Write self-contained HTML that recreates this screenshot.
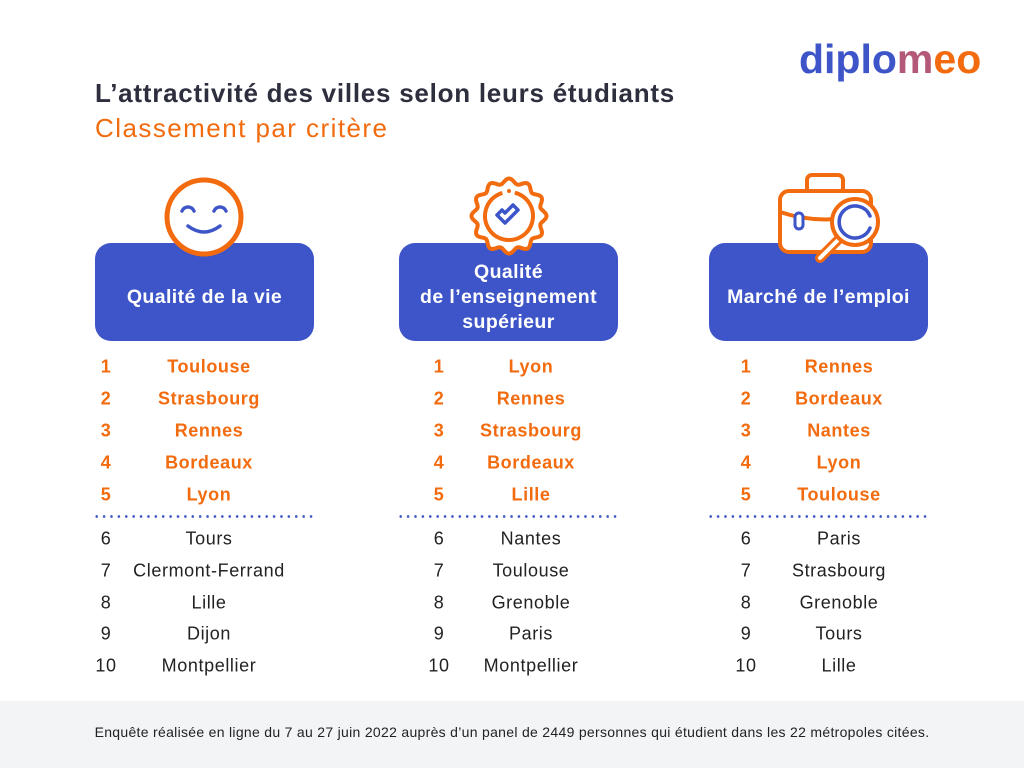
<!DOCTYPE html>
<html><head><meta charset="utf-8"><style>
*{margin:0;padding:0;box-sizing:border-box}
body{width:1024px;height:768px;background:#fff;position:relative;overflow:hidden;font-family:"Liberation Sans",sans-serif}
.t{position:absolute;white-space:nowrap}
.box{position:absolute;top:243px;width:219px;height:98px;background:#3d55c8;border-radius:16px;color:#fff;font-size:19.5px;font-weight:bold;display:flex;align-items:center;justify-content:center;text-align:center;line-height:25px;padding-top:10px;letter-spacing:0.4px}
.n{position:absolute;font-size:18px;transform:translate(-50%,-50%)}
.c{position:absolute;font-size:18px;transform:translate(-50%,-50%);white-space:nowrap}
.o{color:#f26b0f;font-weight:bold;letter-spacing:0.6px}
.k{color:#222;letter-spacing:0.6px}
.dots{position:absolute;top:515px;height:3px;width:222px;background:radial-gradient(circle,#3d55c8 1.2px,transparent 1.5px) 0 0/7.4px 3px repeat-x}
</style></head><body>
<div class="t" style="left:799px;top:36px;font-size:41px;font-weight:bold;color:#3d55c8;letter-spacing:0px">diplo<span style="color:#b4587a">m</span><span style="color:#f26b0f">eo</span></div>
<div class="t" style="left:95px;top:78px;font-size:26px;font-weight:bold;color:#2e2f3e;letter-spacing:0.75px">L’attractivité des villes selon leurs étudiants</div>
<div class="t" style="left:95px;top:113px;font-size:26px;color:#f26b0f;letter-spacing:1.45px">Classement par critère</div>

<div class="box" style="left:95px">Qualité de la vie</div>
<div class="box" style="left:399px">Qualité<br>de l’enseignement<br>supérieur</div>
<div class="box" style="left:709px">Marché de l’emploi</div>

<svg style="position:absolute;left:0;top:0" width="1024" height="300">
<circle cx="204" cy="217" r="37" fill="#fff" stroke="#f26b0f" stroke-width="5"/>
<path d="M182 211a6.5 6.5 0 0 1 12 0M214 211a6.5 6.5 0 0 1 12 0" fill="none" stroke="#3d55c8" stroke-width="3.5" stroke-linecap="round"/>
<path d="M188 226q16 12 32 0" fill="none" stroke="#3d55c8" stroke-width="3.5" stroke-linecap="round"/>
<path id="wavy" d="" fill="#fff" stroke="#f26b0f" stroke-width="4"/>
<circle cx="509" cy="216" r="24" fill="none" stroke="#f26b0f" stroke-width="4" stroke-dasharray="138 12.8" transform="rotate(-76 509 216)"/>
<circle cx="509" cy="191" r="2" fill="#f26b0f"/>
<path d="M497 215l8 8 13-13-5-5-8 8-3-3z" fill="none" stroke="#3d55c8" stroke-width="3.5" stroke-linejoin="round"/>
<rect x="807" y="175" width="36" height="18" rx="5" fill="#fff" stroke="#f26b0f" stroke-width="4"/>
<rect x="780" y="191" width="91" height="61" rx="9" fill="#fff" stroke="#f26b0f" stroke-width="4"/>
<path d="M780 212q45 15 91 0" fill="none" stroke="#f26b0f" stroke-width="4"/>
<rect x="795" y="213" width="8" height="16" rx="4" fill="#fff" stroke="#3d55c8" stroke-width="3"/>
<line x1="820" y1="258" x2="838" y2="240" stroke="#f26b0f" stroke-width="10" stroke-linecap="round"/>
<line x1="820" y1="258" x2="838" y2="240" stroke="#fff" stroke-width="4" stroke-linecap="round"/>
<circle cx="855" cy="222" r="23" fill="#fff" stroke="#f26b0f" stroke-width="4"/>
<path d="M870 216a16 16 0 1 0 0 12" fill="none" stroke="#3d55c8" stroke-width="3.5" stroke-linecap="round"/>
</svg>

<div class="dots" style="left:93px"></div>
<div class="dots" style="left:397px"></div>
<div class="dots" style="left:707px"></div>

<div id="lists"></div>
<script>
var d="";for(var i=0;i<=240;i++){var a=i/240*2*Math.PI,r=35+2.5*Math.cos(12*a);d+=(i?"L":"M")+(509+r*Math.cos(a)).toFixed(2)+" "+(216+r*Math.sin(a)).toFixed(2);}
document.getElementById("wavy").setAttribute("d",d+"Z");
var cols=[[106,209,["Toulouse","Strasbourg","Rennes","Bordeaux","Lyon","Tours","Clermont-Ferrand","Lille","Dijon","Montpellier"]],
[439,531,["Lyon","Rennes","Strasbourg","Bordeaux","Lille","Nantes","Toulouse","Grenoble","Paris","Montpellier"]],
[746,839,["Rennes","Bordeaux","Nantes","Lyon","Toulouse","Paris","Strasbourg","Grenoble","Tours","Lille"]]];
var ys=[367,399,431,463,495,539,571,603,634,666],h="";
cols.forEach(function(c){c[2].forEach(function(n,i){var cl=i<5?"o":"k";
h+='<div class="n '+cl+'" style="left:'+c[0]+'px;top:'+ys[i]+'px">'+(i+1)+'</div><div class="c '+cl+'" style="left:'+c[1]+'px;top:'+ys[i]+'px">'+n+'</div>';});});
document.getElementById("lists").innerHTML=h;
</script>

<div style="position:absolute;left:0;top:701px;width:1024px;height:67px;background:#f3f4f6"></div>
<div class="t" style="left:0;width:1024px;top:724px;text-align:center;font-size:14px;color:#222;letter-spacing:0.3px">Enquête réalisée en ligne du 7 au 27 juin 2022 auprès d’un panel de 2449 personnes qui étudient dans les 22 métropoles citées.</div>
</body></html>
